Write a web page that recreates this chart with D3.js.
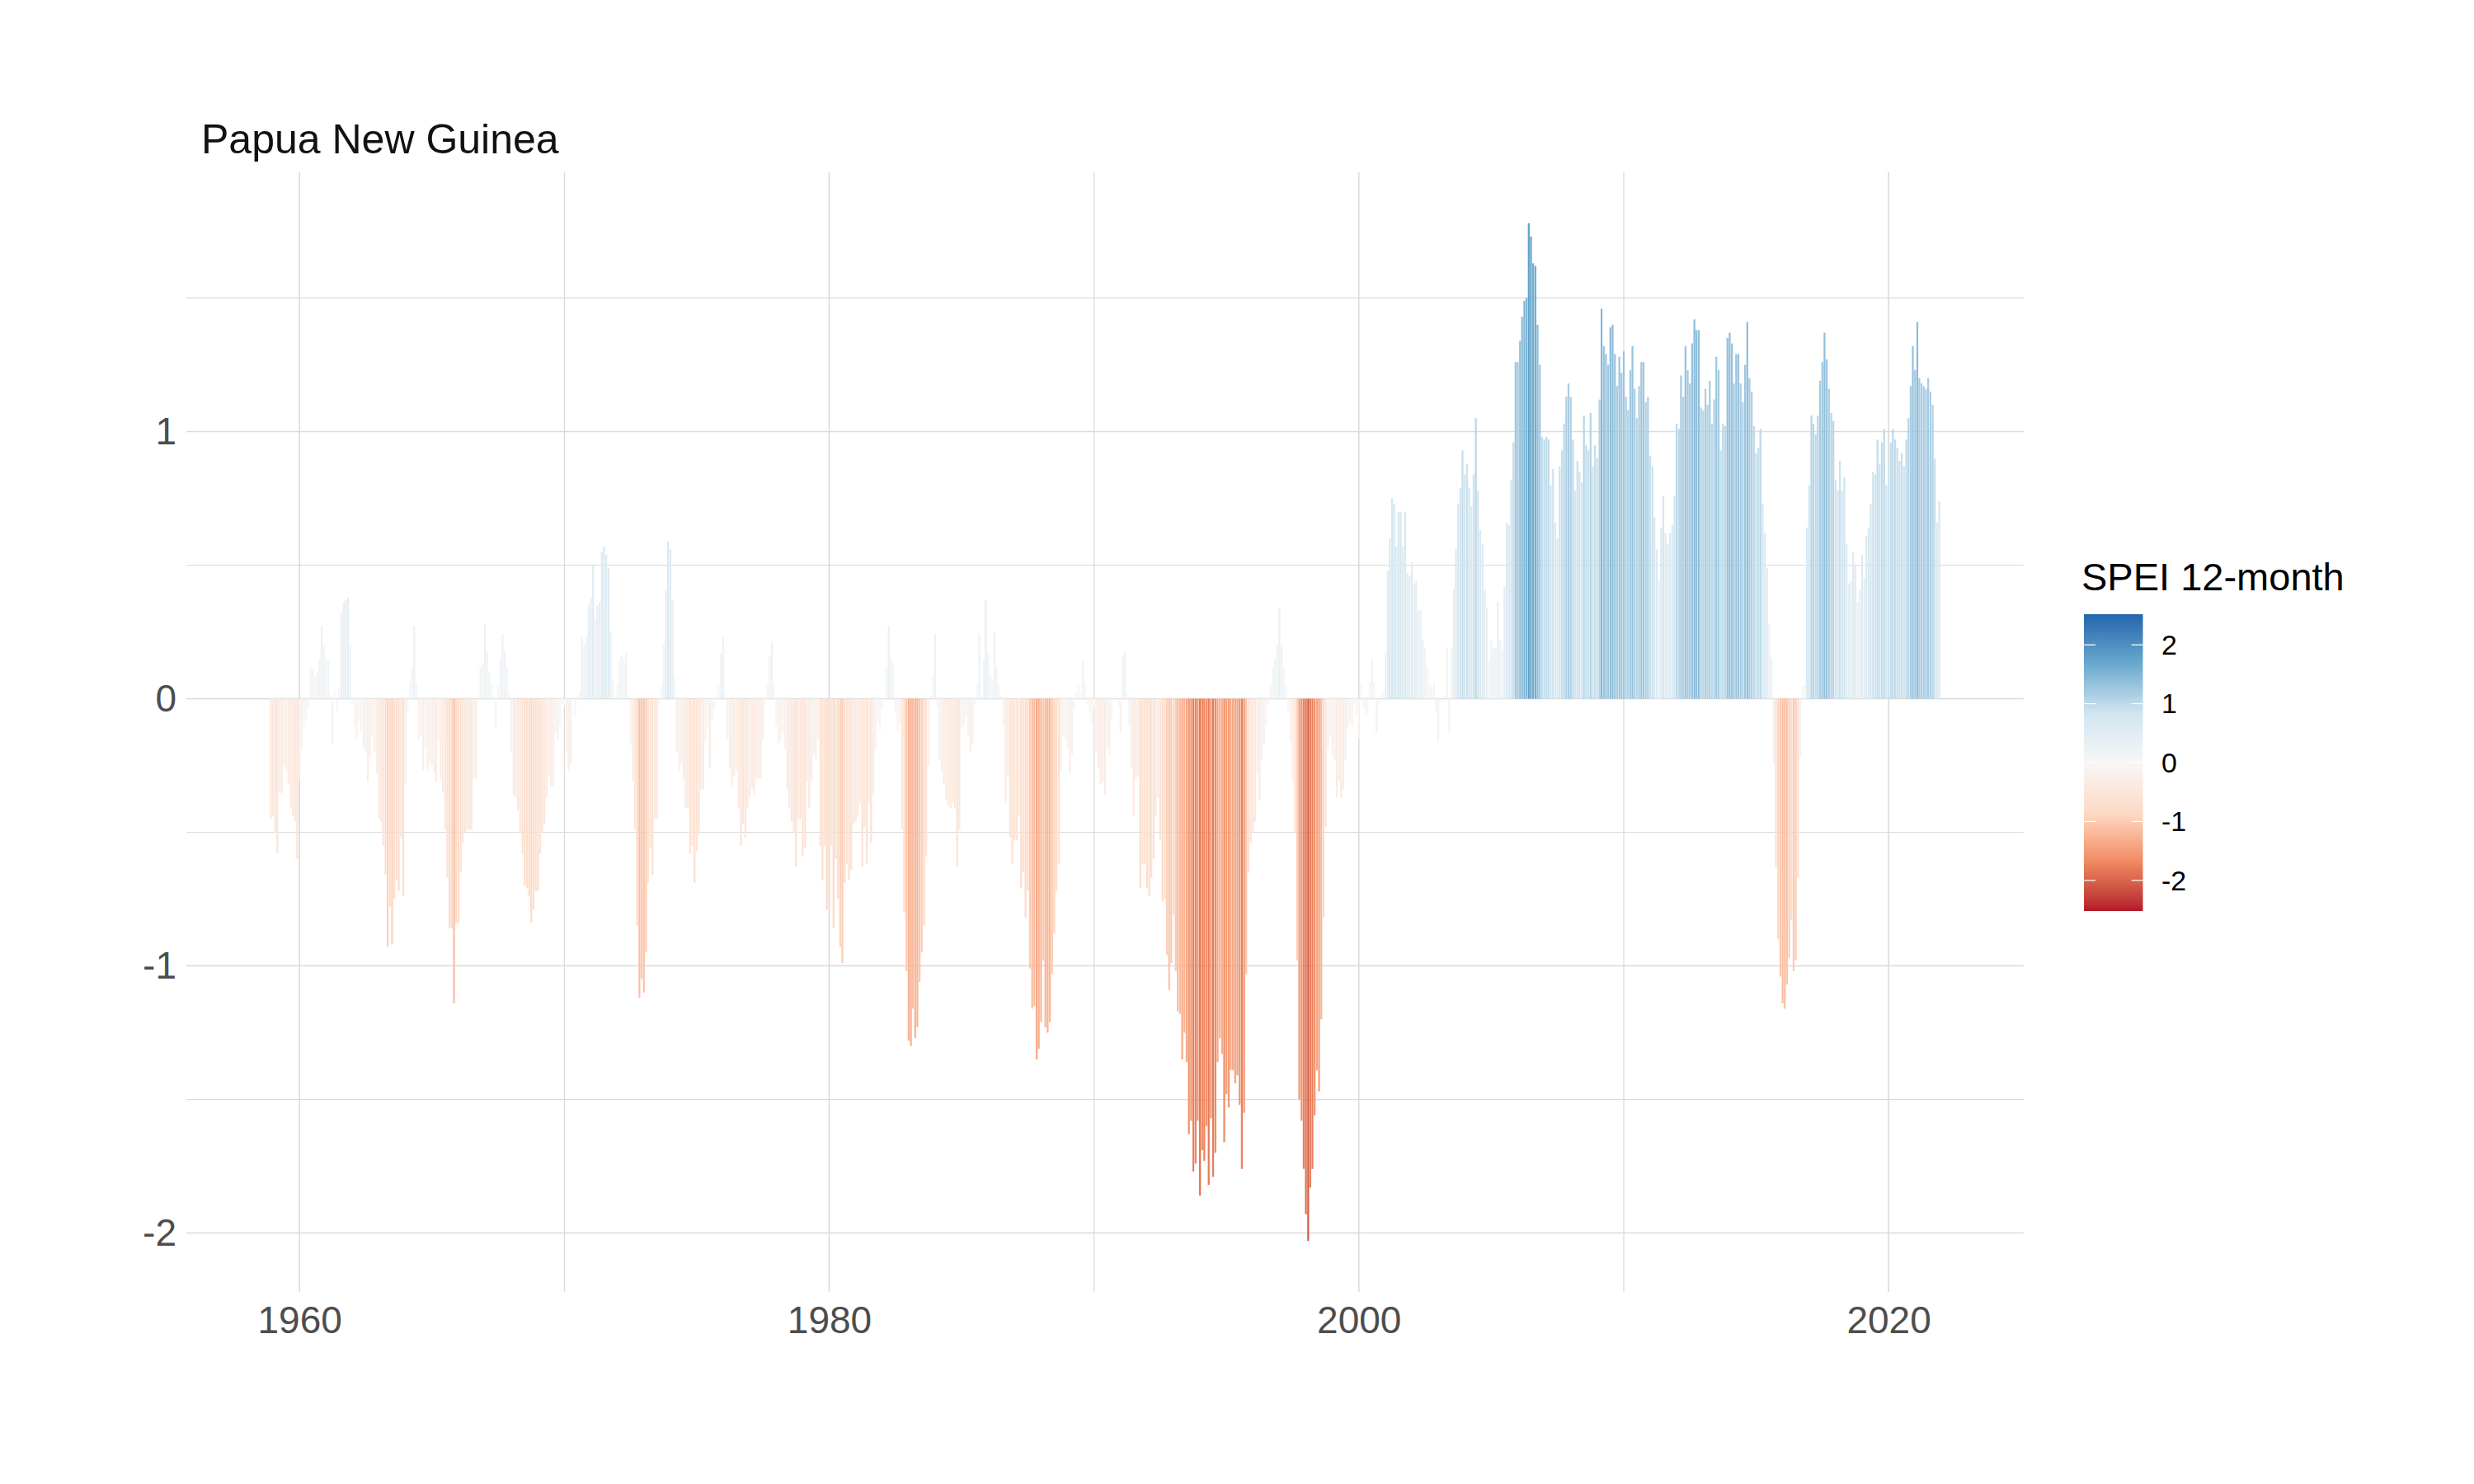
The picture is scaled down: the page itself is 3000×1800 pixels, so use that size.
<!DOCTYPE html>
<html>
<head>
<meta charset="utf-8">
<script src="https://cdn.jsdelivr.net/npm/d3@7"></script>
<style>
  body { margin: 0; background: #ffffff; }
  svg { display: block; }
  text { font-family: "Liberation Sans", Arial, sans-serif; }
</style>
</head>
<body>
<svg id="chart" width="3000" height="1800"></svg>
<script>
// ---------------- data ----------------
const chartTitle = "Papua New Guinea";
const legendTitle = "SPEI 12-month";
const firstMonth = [1958, 11]; // December 1958 (year, zero-based month)

const spei1950s = [
  -0.45,
  -0.44, -0.50, -0.58, -0.35, -0.36, -0.25, -0.27, -0.32, -0.41, -0.44, -0.46, -0.60
];
const spei1960s = [
  -0.30, -0.19, -0.10, -0.08, -0.03, 0.12, 0.11, 0.08, 0.10, 0.15, 0.27, 0.20,
  0.15, 0.14, 0.02, -0.17, 0.03, -0.05, 0.04, 0.32, 0.36, 0.37, 0.38, 0.20,
  -0.02, -0.10, -0.15, -0.08, -0.12, -0.18, -0.20, -0.31, -0.22, -0.14, -0.20, -0.28,
  -0.45, -0.46, -0.55, -0.66, -0.93, -0.78, -0.92, -0.75, -0.68, -0.72, -0.52, -0.74,
  -0.32, -0.05, 0.06, 0.12, 0.27, 0.06, -0.15, -0.14, -0.27, -0.18, -0.27, -0.24,
  -0.25, -0.28, -0.31, -0.16, -0.30, -0.35, -0.49, -0.67, -0.86, -0.86, -1.14, -0.84,
  -0.84, -0.65, -0.54, -0.50, -0.49, -0.49, -0.49, -0.30, -0.30, 0.00, 0.12, 0.13,
  0.28, 0.18, 0.10, 0.06, 0.01, -0.11, 0.05, 0.15, 0.24, 0.18, 0.12, 0.03,
  -0.20, -0.36, -0.37, -0.42, -0.50, -0.58, -0.70, -0.71, -0.74, -0.84, -0.79, -0.72,
  -0.72, -0.58, -0.50, -0.47, -0.37, -0.29, -0.33, -0.33, -0.13, -0.15, -0.10, -0.02
];
const spei1970s = [
  -0.03, -0.20, -0.27, -0.24, 0.00, -0.07, 0.01, 0.03, 0.23, 0.20, 0.23, 0.35,
  0.38, 0.50, 0.30, 0.35, 0.36, 0.55, 0.57, 0.54, 0.49, 0.25, 0.07, 0.00,
  0.05, 0.14, 0.16, 0.14, 0.17, 0.00, -0.17, -0.31, -0.49, -0.85, -1.12, -1.05,
  -1.10, -0.95, -0.69, -0.56, -0.66, -0.45, -0.45, -0.02, 0.05, 0.20, 0.41, 0.59,
  0.56, 0.37, 0.08, -0.20, -0.27, -0.24, -0.30, -0.41, -0.41, -0.58, -0.55, -0.69,
  -0.57, -0.51, -0.34, -0.34, -0.16, -0.11, -0.26, -0.08, -0.04, 0.01, 0.05, 0.17,
  0.23, 0.02, -0.15, -0.26, -0.33, -0.29, -0.27, -0.41, -0.55, -0.47, -0.52, -0.41,
  -0.37, -0.34, -0.36, -0.30, -0.30, -0.30, -0.15, -0.02, 0.05, 0.16, 0.21, 0.05,
  -0.10, -0.17, -0.15, -0.13, -0.19, -0.34, -0.41, -0.46, -0.50, -0.63, -0.45, -0.45,
  -0.59, -0.56, -0.31, -0.41, -0.31, -0.21, -0.23, -0.15, -0.55, -0.68, -0.55, -0.79
];
const spei1980s = [
  -0.78, -0.55, -0.86, -0.60, -0.75, -0.93, -0.99, -0.69, -0.62, -0.68, -0.64, -0.47,
  -0.46, -0.44, -0.39, -0.63, -0.48, -0.62, -0.39, -0.54, -0.36, -0.19, -0.09, -0.12,
  -0.04, 0.00, 0.12, 0.27, 0.15, 0.13, -0.05, -0.12, -0.10, -0.49, -0.80, -1.02,
  -1.28, -1.30, -1.16, -1.27, -1.23, -1.06, -0.95, -0.85, -0.59, -0.25, 0.00, 0.09,
  0.24, -0.03, -0.23, -0.27, -0.32, -0.38, -0.40, -0.41, -0.39, -0.41, -0.63, -0.49,
  -0.11, -0.10, -0.07, -0.14, -0.20, -0.17, -0.02, 0.05, 0.24, 0.01, 0.14, 0.37,
  0.17, 0.09, 0.07, 0.25, 0.12, 0.05, 0.01, -0.10, -0.39, -0.29, -0.52, -0.62,
  -0.53, -0.53, -0.44, -0.71, -0.65, -0.82, -0.72, -1.01, -1.16, -1.15, -1.35, -1.31,
  -1.21, -0.98, -1.23, -1.25, -1.21, -1.03, -0.88, -0.72, -0.62, -0.27, -0.14, -0.15,
  -0.18, -0.28, -0.21, -0.04, 0.02, 0.05, 0.02, 0.14, 0.06, -0.02, -0.05, -0.09
];
const spei1990s = [
  -0.03, -0.20, -0.26, -0.32, -0.31, -0.36, -0.18, -0.21, -0.08, 0.00, 0.01, -0.03,
  -0.13, 0.16, 0.18, 0.02, -0.10, -0.26, -0.44, -0.30, -0.29, -0.71, -0.62, -0.62,
  -0.71, -0.74, -0.67, -0.60, -0.44, -0.37, -0.53, -0.76, -0.75, -0.96, -1.09, -0.99,
  -0.81, -1.02, -1.17, -1.18, -1.35, -1.25, -1.36, -1.63, -1.58, -1.77, -1.74, -1.58,
  -1.86, -1.69, -1.73, -1.60, -1.82, -1.57, -1.79, -1.70, -1.36, -1.27, -1.33, -1.66,
  -1.48, -1.53, -1.39, -1.39, -1.44, -1.41, -1.52, -1.76, -1.55, -1.03, -0.65, -0.54,
  -0.50, -0.46, -0.28, -0.38, -0.23, -0.17, -0.10, -0.02, 0.05, 0.12, 0.15, 0.20,
  0.34, 0.20, 0.12, 0.05, -0.05, -0.16, -0.30, -0.50, -0.98, -1.50, -1.58, -1.76,
  -1.93, -2.03, -1.83, -1.76, -1.56, -1.39, -1.47, -1.20, -0.82, -0.48, -0.19, -0.14,
  -0.21, -0.23, -0.37, -0.31, -0.37, -0.34, -0.23, -0.11, -0.09, -0.10, -0.02, -0.06
];
const spei2000s = [
  -0.15, 0.06, -0.04, -0.06, -0.06, 0.06, 0.15, 0.06, -0.13, -0.02, 0.00, 0.02,
  0.17, 0.48, 0.60, 0.75, 0.73, 0.57, 0.70, 0.70, 0.57, 0.70, 0.47, 0.46,
  0.51, 0.43, 0.44, 0.33, 0.33, 0.22, 0.19, 0.12, 0.06, 0.04, 0.06, -0.05,
  -0.16, -0.01, 0.00, 0.01, 0.19, -0.13, 0.19, 0.41, 0.56, 0.73, 0.79, 0.93,
  0.84, 0.88, 0.79, 0.72, 0.84, 1.05, 0.78, 0.63, 0.58, 0.41, 0.34, 0.14,
  0.22, 0.19, 0.19, 0.36, 0.22, 0.18, 0.42, 0.66, 0.65, 0.82, 0.96, 1.26,
  1.26, 1.34, 1.43, 1.49, 1.50, 1.78, 1.73, 1.63, 1.62, 1.40, 1.25, 0.98,
  0.97, 0.98, 0.97, 0.80, 0.86, 0.66, 0.60, 0.87, 0.93, 1.03, 1.13, 1.18,
  1.13, 0.97, 0.78, 0.89, 0.85, 0.81, 1.06, 0.95, 0.93, 1.07, 0.87, 0.95,
  0.90, 1.12, 1.46, 1.32, 1.29, 1.25, 1.39, 1.40, 1.29, 1.17, 1.28, 1.22
];
const spei2010s = [
  1.30, 1.13, 1.08, 1.23, 1.32, 1.16, 1.05, 1.17, 1.26, 1.26, 1.11, 1.13,
  0.91, 0.87, 0.68, 0.56, 0.44, 0.64, 0.76, 0.62, 0.58, 0.62, 0.65, 0.76,
  1.03, 1.01, 1.21, 1.13, 1.32, 1.23, 1.18, 1.33, 1.42, 1.38, 1.38, 1.09,
  1.08, 1.16, 1.10, 1.19, 1.03, 1.12, 1.28, 1.23, 0.93, 1.03, 1.02, 1.35,
  1.37, 1.33, 1.18, 1.29, 1.29, 1.18, 1.11, 1.25, 1.41, 1.20, 1.15, 1.02,
  0.92, 0.94, 1.01, 0.73, 0.62, 0.49, 0.28, 0.15, -0.24, -0.63, -0.90, -1.04,
  -1.14, -1.16, -1.07, -0.97, -0.83, -1.02, -0.98, -0.67, -0.22, 0.05, 0.05, 0.64,
  0.80, 1.06, 1.03, 0.99, 1.06, 1.19, 1.26, 1.37, 1.27, 1.16, 1.07, 1.04,
  0.82, 0.78, 0.89, 0.78, 0.83, 0.58, 0.43, 0.44, 0.55, 0.50, 0.36, 0.41,
  0.54, 0.45, 0.61, 0.64, 0.73, 0.85, 0.84, 0.97, 0.88, 0.96, 1.01, 0.80
];
const spei2020s = [
  0.85, 0.96, 1.01, 0.97, 0.94, 0.89, 0.92, 0.87, 0.97, 1.05, 1.17, 1.32,
  1.23, 1.41, 1.20, 1.18, 1.17, 1.16, 1.20, 1.15, 1.10, 0.90, 0.66, 0.74
];

const xTickYears = [1960, 1980, 2000, 2020];
const xMinorYears = [1970, 1990, 2010];
const yTicks = [-2, -1, 0, 1];
const yMinorTicks = [-1.5, -0.5, 0.5, 1.5];
const legendTicks = [-2, -1, 0, 1, 2];
const paletteColors = ["#B2182B", "#EF8A62", "#FDDBC7", "#F7F7F7", "#D1E5F0", "#67A9CF", "#2166AC"];
const colorLimits = [-2.52, 2.52];

// ---------------- build ----------------
const values = [].concat(spei1950s, spei1960s, spei1970s, spei1980s, spei1990s, spei2000s, spei2010s, spei2020s);
const start = new Date(Date.UTC(firstMonth[0], firstMonth[1], 1));
const data = values.map((v, i) => ({ date: d3.utcMonth.offset(start, i), value: v }));

const DAY = 86400000;
const halfBar = 0.9 * 28 * DAY / 2;   // geom_col width 0.9 * resolution (28 days)

const panel = { left: 226, right: 2454, top: 209, bottom: 1567 };

// x domain with ggplot-like 5% expansion
const xMin = +data[0].date - halfBar, xMax = +data[data.length - 1].date + halfBar;
const xPad = (xMax - xMin) * 0.05;
const x = d3.scaleUtc()
  .domain([new Date(xMin - xPad), new Date(xMax + xPad)])
  .range([panel.left, panel.right]);

const vMin = d3.min(values), vMax = d3.max(values);
const yPad = (vMax - vMin) * 0.05;
const y = d3.scaleLinear()
  .domain([vMin - yPad, vMax + yPad])
  .range([panel.bottom, panel.top]);

const stopsDomain = d3.range(paletteColors.length).map(i =>
  colorLimits[0] + i * (colorLimits[1] - colorLimits[0]) / (paletteColors.length - 1));
const color = d3.scaleLinear().domain(stopsDomain).range(paletteColors)
  .interpolate(d3.interpolateLab).clamp(true);

const svg = d3.select("#chart");
svg.append("rect").attr("width", 3000).attr("height", 1800).attr("fill", "#ffffff");

// grid
const grid = svg.append("g");
const gridColor = "#dadada";
grid.selectAll(".hmin").data(yMinorTicks).join("line")
  .attr("x1", panel.left).attr("x2", panel.right)
  .attr("y1", d => y(d)).attr("y2", d => y(d))
  .attr("stroke", gridColor).attr("stroke-width", 1.2);
grid.selectAll(".vmin").data(xMinorYears).join("line")
  .attr("y1", panel.top).attr("y2", panel.bottom)
  .attr("x1", d => x(new Date(Date.UTC(d, 0, 1)))).attr("x2", d => x(new Date(Date.UTC(d, 0, 1))))
  .attr("stroke", gridColor).attr("stroke-width", 1.2);
grid.selectAll(".hmaj").data(yTicks).join("line")
  .attr("x1", panel.left).attr("x2", panel.right)
  .attr("y1", d => y(d)).attr("y2", d => y(d))
  .attr("stroke", gridColor).attr("stroke-width", 1.6);
grid.selectAll(".vmaj").data(xTickYears).join("line")
  .attr("y1", panel.top).attr("y2", panel.bottom)
  .attr("x1", d => x(new Date(Date.UTC(d, 0, 1)))).attr("x2", d => x(new Date(Date.UTC(d, 0, 1))))
  .attr("stroke", gridColor).attr("stroke-width", 1.6);

// bars
svg.append("g").selectAll("rect").data(data).join("rect")
  .attr("x", d => x(new Date(+d.date - halfBar)))
  .attr("width", d => x(new Date(+d.date + halfBar)) - x(new Date(+d.date - halfBar)))
  .attr("y", d => y(Math.max(0, d.value)))
  .attr("height", d => Math.abs(y(d.value) - y(0)))
  .attr("fill", d => color(d.value));

// axes
const hyphenFormat = d => String(d);
const yAxis = svg.append("g").attr("transform", `translate(${panel.left},0)`)
  .call(d3.axisLeft(y).tickValues(yTicks).tickSize(0).tickPadding(12).tickFormat(hyphenFormat));
yAxis.select(".domain").remove();
yAxis.selectAll("text").attr("font-size", 46).attr("fill", "#4d4d4d")
  .attr("font-family", '"Liberation Sans", Arial, sans-serif');

const xAxis = svg.append("g").attr("transform", `translate(0,${panel.bottom})`)
  .call(d3.axisBottom(x).tickValues(xTickYears.map(v => new Date(Date.UTC(v, 0, 1))))
    .tickSize(0).tickPadding(17).tickFormat(d3.utcFormat("%Y")));
xAxis.select(".domain").remove();
xAxis.selectAll("text").attr("font-size", 46).attr("fill", "#4d4d4d")
  .attr("font-family", '"Liberation Sans", Arial, sans-serif');

// title
svg.append("text").attr("x", 244).attr("y", 186)
  .attr("font-size", 50).attr("fill", "#111111").text(chartTitle);

// legend
const leg = { x: 2527, y: 745, w: 71.5, h: 360 };
const ly = d3.scaleLinear().domain(colorLimits).range([leg.y + leg.h, leg.y]);
const defs = svg.append("defs");
const grad = defs.append("linearGradient").attr("id", "speiGrad")
  .attr("x1", 0).attr("x2", 0).attr("y1", 1).attr("y2", 0);
d3.range(0, 1.0001, 0.02).forEach(t => {
  grad.append("stop").attr("offset", t)
    .attr("stop-color", color(colorLimits[0] + t * (colorLimits[1] - colorLimits[0])));
});
svg.append("text").attr("x", 2524).attr("y", 716).attr("font-size", 47)
  .attr("fill", "#000").text(legendTitle);
svg.append("rect").attr("x", leg.x).attr("y", leg.y).attr("width", leg.w).attr("height", leg.h)
  .attr("fill", "url(#speiGrad)");
const lt = svg.append("g");
lt.selectAll(".tl").data(legendTicks).join("line")
  .attr("x1", leg.x).attr("x2", leg.x + 14)
  .attr("y1", d => ly(d)).attr("y2", d => ly(d))
  .attr("stroke", "#ffffff").attr("stroke-width", 1.2);
lt.selectAll(".tr").data(legendTicks).join("line")
  .attr("x1", leg.x + leg.w - 14).attr("x2", leg.x + leg.w)
  .attr("y1", d => ly(d)).attr("y2", d => ly(d))
  .attr("stroke", "#ffffff").attr("stroke-width", 1.2);
lt.selectAll("text").data(legendTicks).join("text")
  .attr("x", 2621).attr("y", d => ly(d)).attr("dy", "0.35em")
  .attr("font-size", 34).attr("fill", "#000").text(hyphenFormat);
</script>
</body>
</html>
